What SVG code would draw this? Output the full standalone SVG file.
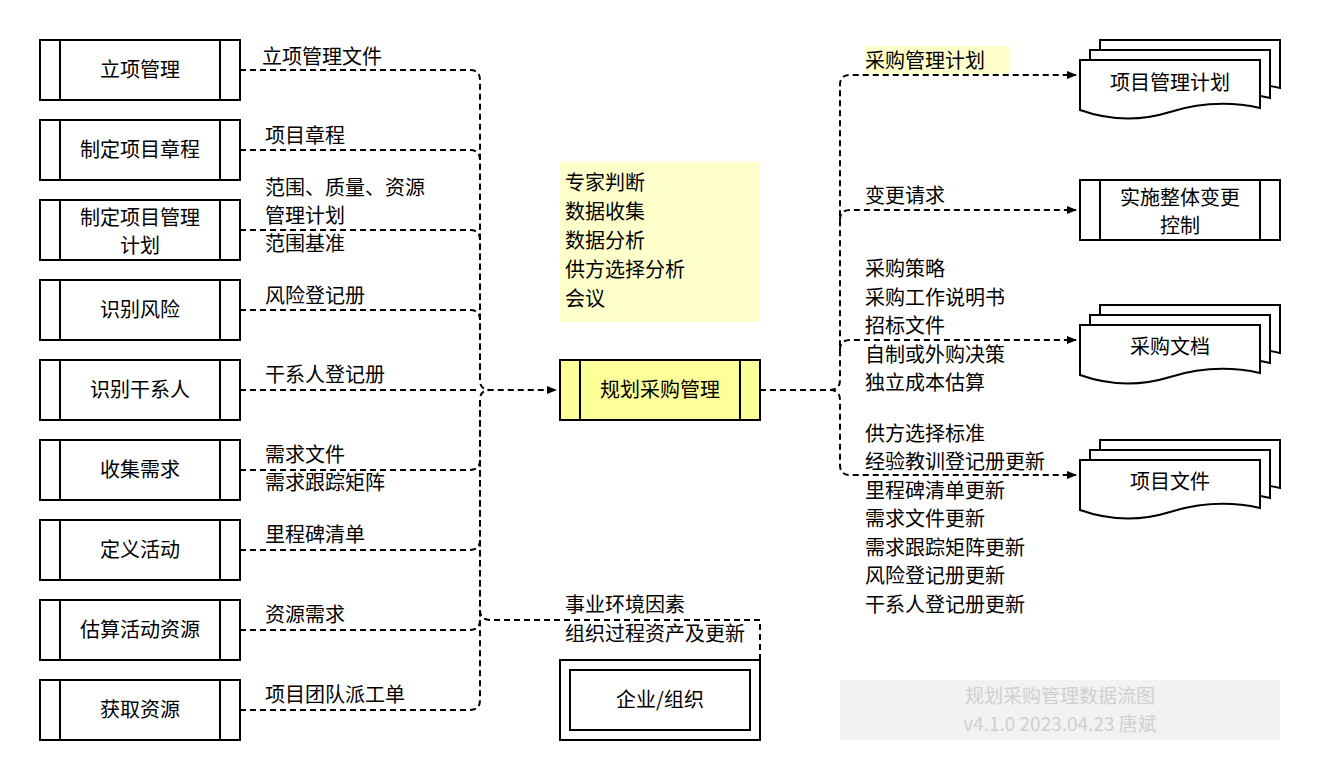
<svg xmlns="http://www.w3.org/2000/svg" width="1322" height="782" viewBox="0 0 1322 782">
<style>
text{font-family:"Noto Sans CJK SC","Liberation Sans",sans-serif;font-size:20px;fill:#000}
.c{text-anchor:middle}
.box{fill:#fff;stroke:#000;stroke-width:2}
.ln{stroke:#000;stroke-width:2}
.d{fill:none;stroke:#000;stroke-width:2;stroke-dasharray:6 4}
</style>
<defs>
<marker id="a" markerWidth="10" markerHeight="8" refX="9" refY="4" orient="auto" markerUnits="userSpaceOnUse"><path d="M0,0 L10,4 L0,8 Z" fill="#000"/></marker>
<symbol id="doc" overflow="visible"><path d="M0,0 H180 V48 Q135,38 90,52 Q45,66 0,50 Z" fill="#fff" stroke="#000" stroke-width="2"/></symbol>
</defs>
<rect x="840" y="680" width="440" height="60" fill="#f2f2f2"/>
<text x="1060" y="703" class="c" style="fill:#cfcfcf;font-size:19px">规划采购管理数据流图</text>
<text x="1060" y="731" class="c" style="fill:#cfcfcf;font-size:19px">v4.1.0    2023.04.23    唐斌</text>
<rect x="560" y="162" width="200" height="160" fill="#ffffcc"/>
<g id="tools"><text x="565" y="190">专家判断</text><text x="565" y="219">数据收集</text><text x="565" y="248">数据分析</text><text x="565" y="277">供方选择分析</text><text x="565" y="306">会议</text></g>
<g id="connectors">
<path class="d" d="M240,70 H470 Q480,70 480,80 V380 Q480,390 490,390 H556" marker-end="url(#a)"/>
<path class="d" d="M240,150 H470 Q480,150 480,160 V380"/>
<path class="d" d="M240,230 H470 Q480,230 480,240 V380"/>
<path class="d" d="M240,310 H470 Q480,310 480,320 V380"/>
<path class="d" d="M240,390 H480"/>
<path class="d" d="M240,470 H470 Q480,470 480,460 V400 Q480,390 490,390"/>
<path class="d" d="M240,550 H470 Q480,550 480,540 V400"/>
<path class="d" d="M240,630 H470 Q480,630 480,620 V400"/>
<path class="d" d="M240,710 H470 Q480,710 480,700 V400"/>
<path class="d" d="M760,660 V620 H490 Q480,620 480,610 V400"/>
<path class="d" d="M760,390 H830 Q840,390 840,380 V85 Q840,75 850,75 H1076" marker-end="url(#a)"/>
<path class="d" d="M840,220 Q840,210 850,210 H1076" marker-end="url(#a)"/>
<path class="d" d="M840,350 Q840,340 850,340 H1076" marker-end="url(#a)"/>
<path class="d" d="M830,390 Q840,390 840,400 V465 Q840,475 850,475 H1076" marker-end="url(#a)"/>
</g>
<g id="n1"><rect class="box" x="40" y="40" width="200" height="60"/><path class="ln" d="M60,40V100M220,40V100"/><text x="140" y="77" class="c">立项管理</text></g>
<g id="n2"><rect class="box" x="40" y="120" width="200" height="60"/><path class="ln" d="M60,120V180M220,120V180"/><text x="140" y="157" class="c">制定项目章程</text></g>
<g id="n3"><rect class="box" x="40" y="200" width="200" height="60"/><path class="ln" d="M60,200V260M220,200V260"/><text x="140" y="225" class="c">制定项目管理</text><text x="140" y="253" class="c">计划</text></g>
<g id="n4"><rect class="box" x="40" y="280" width="200" height="60"/><path class="ln" d="M60,280V340M220,280V340"/><text x="140" y="317" class="c">识别风险</text></g>
<g id="n5"><rect class="box" x="40" y="360" width="200" height="60"/><path class="ln" d="M60,360V420M220,360V420"/><text x="140" y="397" class="c">识别干系人</text></g>
<g id="n6"><rect class="box" x="40" y="440" width="200" height="60"/><path class="ln" d="M60,440V500M220,440V500"/><text x="140" y="477" class="c">收集需求</text></g>
<g id="n7"><rect class="box" x="40" y="520" width="200" height="60"/><path class="ln" d="M60,520V580M220,520V580"/><text x="140" y="557" class="c">定义活动</text></g>
<g id="n8"><rect class="box" x="40" y="600" width="200" height="60"/><path class="ln" d="M60,600V660M220,600V660"/><text x="140" y="637" class="c">估算活动资源</text></g>
<g id="n9"><rect class="box" x="40" y="680" width="200" height="60"/><path class="ln" d="M60,680V740M220,680V740"/><text x="140" y="717" class="c">获取资源</text></g>
<g id="main"><rect class="box" x="560" y="360" width="200" height="60" style="fill:#ffff99"/><path class="ln" d="M580,360V420M740,360V420"/><text x="660" y="397" class="c">规划采购管理</text></g>
<g id="org"><rect class="box" x="560" y="660" width="200" height="80"/><rect class="box" x="570" y="670" width="180" height="60"/><text x="660" y="707" class="c">企业/组织</text></g>
<g id="pmp"><use href="#doc" x="1100" y="40"/><use href="#doc" x="1090" y="50"/><use href="#doc" x="1080" y="60"/><text x="1170" y="90" class="c">项目管理计划</text></g>
<g id="cc"><rect class="box" x="1080" y="180" width="200" height="60"/><path class="ln" d="M1100,180V240M1260,180V240"/><text x="1180" y="205" class="c">实施整体变更</text><text x="1180" y="233" class="c">控制</text></g>
<g id="pd"><use href="#doc" x="1100" y="305"/><use href="#doc" x="1090" y="315"/><use href="#doc" x="1080" y="325"/><text x="1170" y="354" class="c">采购文档</text></g>
<g id="pf"><use href="#doc" x="1100" y="440"/><use href="#doc" x="1090" y="450"/><use href="#doc" x="1080" y="460"/><text x="1170" y="489" class="c">项目文件</text></g>
<g id="labels">
<text x="262" y="64">立项管理文件</text>
<text x="265" y="143">项目章程</text>
<text x="265" y="195">范围、质量、资源</text><text x="265" y="223">管理计划</text><text x="265" y="251">范围基准</text>
<text x="265" y="303">风险登记册</text>
<text x="265" y="382">干系人登记册</text>
<text x="265" y="462">需求文件</text><text x="265" y="490">需求跟踪矩阵</text>
<text x="265" y="542">里程碑清单</text>
<text x="265" y="622">资源需求</text>
<text x="265" y="702">项目团队派工单</text>
<text x="565" y="612">事业环境因素</text><text x="565" y="641">组织过程资产及更新</text>
<rect x="865" y="46" width="145" height="28" fill="#ffffcc"/>
<text x="865" y="68">采购管理计划</text>
<text x="865" y="203">变更请求</text>
<text x="865" y="276">采购策略</text><text x="865" y="305">采购工作说明书</text><text x="865" y="333">招标文件</text><text x="865" y="362">自制或外购决策</text><text x="865" y="390">独立成本估算</text>
<text x="865" y="441">供方选择标准</text><text x="865" y="469">经验教训登记册更新</text><text x="865" y="498">里程碑清单更新</text><text x="865" y="526">需求文件更新</text><text x="865" y="555">需求跟踪矩阵更新</text><text x="865" y="583">风险登记册更新</text><text x="865" y="612">干系人登记册更新</text>
</g>
</svg>
